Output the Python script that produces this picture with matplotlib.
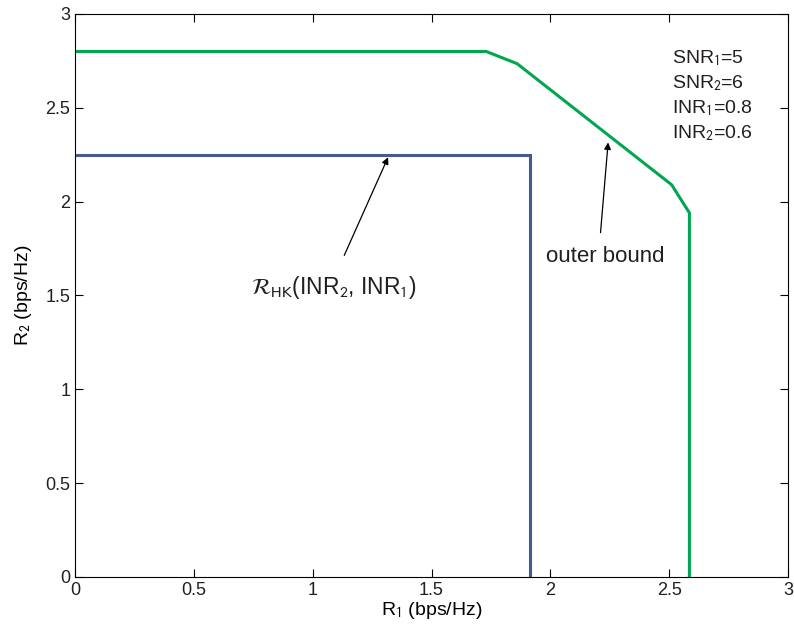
import matplotlib
matplotlib.use('Agg')
import matplotlib.pyplot as plt

plt.rcParams['font.family'] = ['Liberation Sans', 'DejaVu Sans']
plt.rcParams['mathtext.fontset'] = 'stixsans'
plt.rcParams['text.color'] = '#231f20'

# outer bound corner points
outer_r1 = [0, 1.73, 1.86, 2.51, 2.585, 2.585]
outer_r2 = [2.8, 2.8, 2.735, 2.09, 1.94, 0]

# HK achievable region
hk_r1 = [0, 1.915, 1.915]
hk_r2 = [2.25, 2.25, 0]

params = ['SNR$_1$=5', 'SNR$_2$=6', 'INR$_1$=0.8', 'INR$_2$=0.6']

fig = plt.figure(figsize=(7.94, 6.33), dpi=100)
ax = fig.add_axes([0.0945, 0.0885, 0.898, 0.8895])

ax.plot(outer_r1, outer_r2, color='#00a650', lw=2.2, solid_joinstyle='miter')
ax.plot(hk_r1, hk_r2, color='#485a8c', lw=2.2, solid_joinstyle='miter')

ax.set_xlim(0, 3)
ax.set_ylim(0, 3)
ax.set_xticks([0, 0.5, 1, 1.5, 2, 2.5, 3])
ax.set_yticks([0, 0.5, 1, 1.5, 2, 2.5, 3])
ax.set_xticklabels(['0', '0.5', '1', '1.5', '2', '2.5', '3'])
ax.set_yticklabels(['0', '0.5', '1', '1.5', '2', '2.5', '3'])
ax.tick_params(direction='in', top=True, right=True, labelsize=13, length=6, width=0.8,
               labelcolor='#231f20')
for s in ax.spines.values():
    s.set_linewidth(0.8)

ax.set_xlabel('R$_1$ (bps/Hz)', fontsize=14, labelpad=1)
ax.set_ylabel('R$_2$ (bps/Hz)', fontsize=14, labelpad=8)

ax.annotate('', xy=(1.322, 2.25), xytext=(1.128, 1.70),
            arrowprops=dict(arrowstyle='-|>', color='black', lw=0.9, mutation_scale=10))
ax.text(1.09, 1.545, r'$\mathcal{R}_{\mathrm{HK}}$(INR$_2$, INR$_1$)', fontsize=16.5,
        ha='center', va='center')

ax.annotate('', xy=(2.244, 2.33), xytext=(2.21, 1.82),
            arrowprops=dict(arrowstyle='-|>', color='black', lw=0.9, mutation_scale=10))
ax.text(2.23, 1.705, 'outer bound', fontsize=16, ha='center', va='center')

for i, p in enumerate(params):
    ax.text(2.51, 2.765 - i * 0.133, p, fontsize=14, ha='left', va='center')

fig.savefig('out.png', dpi=100)
